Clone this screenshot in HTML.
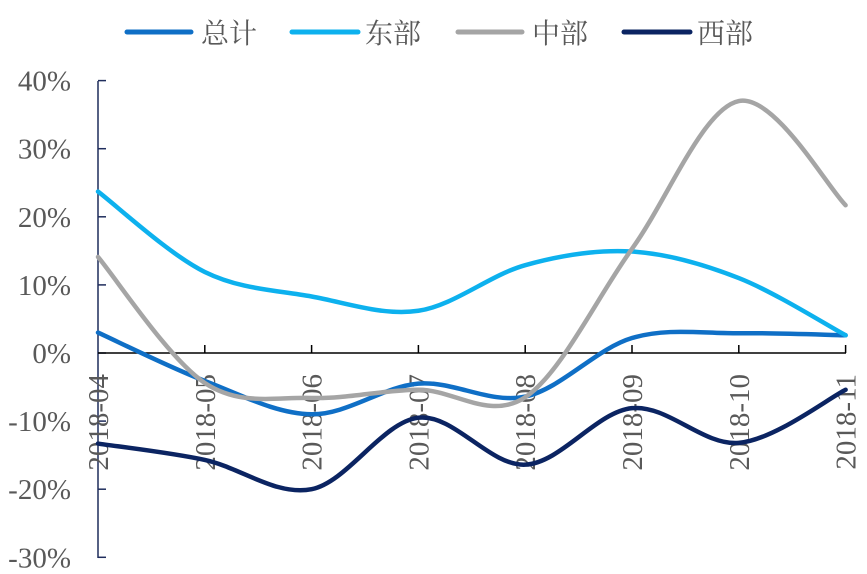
<!DOCTYPE html>
<html>
<head>
<meta charset="utf-8">
<style>
  html, body { margin: 0; padding: 0; background: #ffffff; }
  body { width: 867px; height: 574px; overflow: hidden; }
  svg { display: block; }
  .ylab { font-family: "Liberation Serif", "Noto Serif CJK SC", serif; font-size: 29px; fill: #595959; }
  .xlab { font-family: "Liberation Serif", "Noto Serif CJK SC", serif; font-size: 29px; fill: #595959; }
  .leg { font-family: "Liberation Serif", "Noto Serif CJK SC", serif; font-size: 28px; fill: #595959; }
</style>
</head>
<body>
<svg id="chart" width="867" height="574" viewBox="0 0 867 574" xmlns="http://www.w3.org/2000/svg">
  <!-- Legend -->
  <line x1="127" y1="32" x2="191" y2="32" stroke="#0F6FC6" stroke-width="5" stroke-linecap="round"/>
  <text class="leg" x="201" y="43">总计</text>
  <line x1="292" y1="32" x2="358" y2="32" stroke="#0DB1EE" stroke-width="5" stroke-linecap="round"/>
  <text class="leg" x="365" y="43">东部</text>
  <line x1="458" y1="32" x2="522" y2="32" stroke="#A5A5A5" stroke-width="5" stroke-linecap="round"/>
  <text class="leg" x="532" y="43">中部</text>
  <line x1="624" y1="32" x2="690" y2="32" stroke="#0B2462" stroke-width="5" stroke-linecap="round"/>
  <text class="leg" x="697" y="43">西部</text>

  <!-- Y axis -->
  <line x1="98" y1="81" x2="98" y2="558" stroke="#1F2D5C" stroke-width="1.5"/>
  <g id="yticks" stroke="#1F2D5C" stroke-width="1.5"></g>
  <g id="ylabels"></g>

  <!-- X axis -->
  <line x1="98" y1="353" x2="846" y2="353" stroke="#000000" stroke-width="1.5"/>
  <g id="xticks" stroke="#000000" stroke-width="1.5"></g>
  <g id="xlabels"></g>

  <g id="series" fill="none" stroke-width="4.5" stroke-linecap="round" stroke-linejoin="round"></g>
</svg>
<script>
(function(){
  var NS = "http://www.w3.org/2000/svg";
  var y0 = 353, per = 6.81;
  function Y(v){ return y0 - v*per; }
  var xs = [];
  for (var i=0;i<8;i++) xs.push(98 + i*106.8);

  var yt = document.getElementById('yticks');
  var yl = document.getElementById('ylabels');
  for (var v=40; v>=-30; v-=10) {
    var y = Y(v);
    var l = document.createElementNS(NS,'line');
    l.setAttribute('x1',98); l.setAttribute('x2',106);
    l.setAttribute('y1',y); l.setAttribute('y2',y);
    yt.appendChild(l);
    var t = document.createElementNS(NS,'text');
    t.setAttribute('class','ylab');
    t.setAttribute('x',71); t.setAttribute('y',y+10);
    t.setAttribute('text-anchor','end');
    t.textContent = v + '%';
    yl.appendChild(t);
  }
  var labels = ['2018-04','2018-05','2018-06','2018-07','2018-08','2018-09','2018-10','2018-11'];
  var xt = document.getElementById('xticks');
  var xl = document.getElementById('xlabels');
  for (var i=0;i<8;i++){
    if (i>0){
      var l = document.createElementNS(NS,'line');
      l.setAttribute('x1',xs[i]); l.setAttribute('x2',xs[i]);
      l.setAttribute('y1',345); l.setAttribute('y2',353);
      xt.appendChild(l);
    }
    var t = document.createElementNS(NS,'text');
    t.setAttribute('class','xlab');
    t.setAttribute('transform','translate('+(xs[i]+10)+',374) rotate(-90)');
    t.setAttribute('text-anchor','end');
    t.textContent = labels[i];
    xl.appendChild(t);
  }

  var series = [
    {c:'#0F6FC6', d:[3.0,-4.1,-9.0,-4.5,-6.4,2.2,2.9,2.6]},
    {c:'#0DB1EE', d:[23.7,11.9,8.3,6.2,12.9,14.9,11.0,2.6]},
    {c:'#A5A5A5', d:[14.1,-4.4,-6.6,-5.4,-6.5,15.3,37.0,21.7]},
    {c:'#0B2462', d:[-13.3,-15.7,-20.0,-9.5,-16.4,-8.1,-13.2,-5.4]}
  ];
  var sg = document.getElementById('series');
  series.forEach(function(s){
    var p = s.d.map(function(v,i){ return [xs[i], Y(v)]; });
    var n = p.length;
    var d = 'M'+p[0][0].toFixed(2)+','+p[0][1].toFixed(2);
    for (var i=0;i<n-1;i++){
      var p0 = p[i>0?i-1:i], p1=p[i], p2=p[i+1], p3=p[i+2<n?i+2:i+1];
      var c1x = p1[0] + (p2[0]-p0[0])/6, c1y = p1[1] + (p2[1]-p0[1])/6;
      var c2x = p2[0] - (p3[0]-p1[0])/6, c2y = p2[1] - (p3[1]-p1[1])/6;
      d += ' C'+c1x.toFixed(2)+','+c1y.toFixed(2)+' '+c2x.toFixed(2)+','+c2y.toFixed(2)+' '+p2[0].toFixed(2)+','+p2[1].toFixed(2);
    }
    var path = document.createElementNS(NS,'path');
    path.setAttribute('d',d);
    path.setAttribute('stroke',s.c);
    sg.appendChild(path);
  });
})();
</script>
</body>
</html>
